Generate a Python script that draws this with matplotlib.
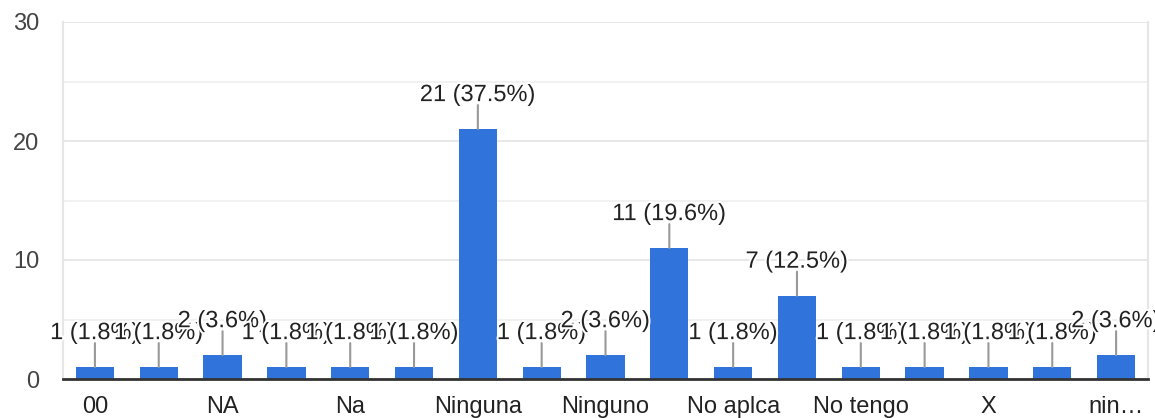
import matplotlib
matplotlib.use("Agg")
import matplotlib.pyplot as plt
import matplotlib.patheffects as pe
from matplotlib.ticker import MultipleLocator

# Data (categories sorted alphabetically; odd-position labels are not shown in the reference)
tick_labels = ["00", "", "NA", "", "Na", "", "Ninguna", "", "Ninguno", "",
               "No aplca", "", "No tengo", "", "X", "", "nin…"]
counts = [1, 1, 2, 1, 1, 1, 21, 1, 2, 11, 1, 7, 1, 1, 1, 1, 2]
percents = [1.8, 1.8, 3.6, 1.8, 1.8, 1.8, 37.5, 1.8, 3.6, 19.6, 1.8, 12.5, 1.8, 1.8, 1.8, 1.8, 3.6]
y_ticks = [0, 10, 20, 30]

plt.rcParams['font.family'] = ['Liberation Sans', 'DejaVu Sans']

fig = plt.figure(figsize=(11.55, 4.18), dpi=100)
ax = fig.add_axes([63 / 1155, 39 / 418, (1148 - 63) / 1155, (379 - 22) / 418])

x = list(range(len(counts)))
bar_color = "#2f73db"
ax.bar(x, counts, width=0.6, color=bar_color, zorder=3)

ax.set_xlim(-0.5, len(counts) - 0.5)
ax.set_ylim(0, 30)
ax.set_yticks(y_ticks)
ax.yaxis.set_minor_locator(MultipleLocator(5))
ax.grid(axis='y', which='major', color='#e4e4e4', lw=1.2, zorder=0)
ax.grid(axis='y', which='minor', color='#efefef', lw=1.2, zorder=0)
ax.set_xticks(x)
ax.set_xticklabels(tick_labels)
ax.tick_params(axis='x', length=0, pad=12, labelsize=17, labelcolor='#222222')
ax.tick_params(axis='y', which='both', length=0, pad=17, labelsize=17, labelcolor='#444444')

ax.spines['top'].set_visible(False)
ax.spines['left'].set_color('#e6e6e6')
ax.spines['right'].set_color('#e6e6e6')
ax.spines['left'].set_linewidth(1.5)
ax.spines['right'].set_linewidth(1.5)
ax.spines['bottom'].set_color('#333333')
ax.spines['bottom'].set_linewidth(2)
ax.spines['bottom'].set_zorder(5)

for i, (c, p) in enumerate(zip(counts, percents)):
    ax.annotate('', xy=(i, c), xytext=(0, 24), textcoords='offset pixels',
                arrowprops=dict(arrowstyle='-', color='#999999', lw=1.5,
                                shrinkA=0, shrinkB=0), zorder=4)
    t = ax.annotate(f"{c} ({p}%)", xy=(i, c), xytext=(0, 28), textcoords='offset pixels',
                    ha='center', va='baseline', fontsize=17, color='#222222',
                    annotation_clip=False, zorder=6)
    t.set_path_effects([pe.withStroke(linewidth=3, foreground='white')])

fig.savefig("out.png", dpi=100)
